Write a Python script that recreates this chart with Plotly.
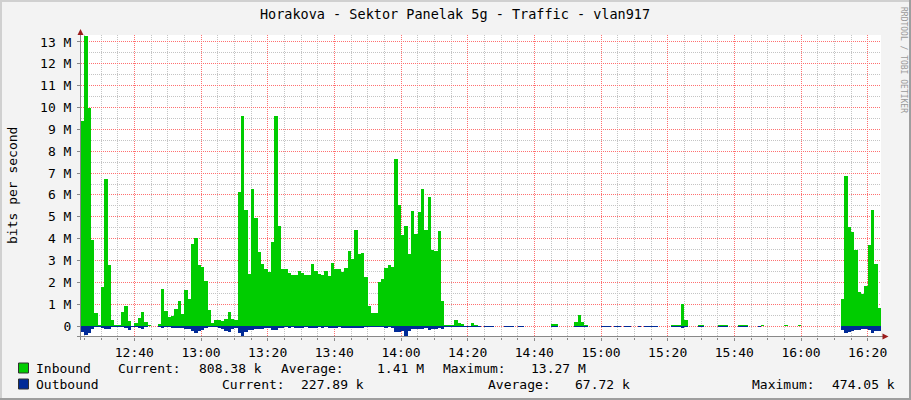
import plotly.graph_objects as go
from datetime import datetime, timedelta

TITLE = "Horakova - Sektor Panelak 5g - Traffic - vlan917"
Y_TITLE = "bits per second"
WATERMARK = "RRDTOOL / TOBI OETIKER"
START = "2024-01-01 12:24:00"
STEP_MINUTES = 1
N = None

# Inbound traffic, Mbit/s, one value per minute (None = no data)
inbound_M = [
    9.4, 13.27, 9.98, 3.94, 0.6, 0.05, 1.8, 6.73, 2.8, 0.27,
    0.06, 0.06, 0.64, 0.93, 0.25, 0.02, 0.15, 0.35, 0.65, 0.2,
    0.04, 0.02, 0.02, 0.1, 1.7, 0.7, 0.43, 0.46, 0.76, 1.13,
    0.56, 1.65, 1.25, 3.75, 4.03, 2.8, 2.7, 2.07, 0.73, 0.15,
    0.27, 0.27, 0.24, 0.33, 0.64, 0.33, 0.27, 6.13, 9.61, 5.31,
    2.38, 6.26, 4.94, 3.39, 2.84, 2.62, 2.47, 3.85, 9.61, 4.58,
    2.62, 2.62, 2.41, 2.35, 2.35, 2.53, 2.41, 2.32, 2.35, 2.84,
    2.5, 2.38, 2.35, 2.5, 2.29, 2.87, 2.62, 2.62, 2.47, 2.65,
    3.45, 3.08, 4.39, 3.3, 3.33, 2.26, 0.92, 0.61, 0.61, 2.01,
    2.17, 2.65, 2.78, 2.69, 7.63, 5.55, 4.15, 4.6, 3.3, 5.25,
    4.2, 5.2, 6.25, 4.4, 5.9, 3.5, 3.45, 4.35, 1.15, 0.04,
    0.04, 0.04, 0.27, 0.15, 0.08, 0.02, 0.02, 0.14, 0.05, 0.01,
    N, 0.01, 0.01, 0.01, N, N, N, 0.01, 0.01, 0.01,
    N, 0.01, 0.01, N, N, N, N, N, N, N,
    N, 0.1, 0.1, N, N, N, N, N, 0.18, 0.49,
    0.18, 0.05, N, N, N, N, 0.01, 0.01, 0.01, N,
    0.01, 0.01, N, 0.01, 0.01, N, N, 0.01, N, 0.01,
    0.01, 0.01, 0.01, N, N, N, N, 0.05, 0.05, 0.05,
    1.02, 0.27, N, N, N, 0.05, 0.05, N, N, N,
    N, 0.05, 0.05, 0.05, N, N, N, 0.05, 0.05, 0.05,
    N, N, N, 0.01, 0.04, N, N, N, N, N,
    N, 0.04, N, N, N, 0.04, N, N, N, N,
    N, N, N, N, N, N, N, N, 1.25, 6.87,
    4.53, 4.3, 3.48, 1.56, 1.46, 1.85, 3.7, 5.31, 2.84, 0.808,
]

# Outbound traffic, Mbit/s (drawn below zero)
outbound_M = [
    0.27, 0.40, 0.30, 0.12, 0.06, 0.03, 0.09, 0.15, 0.15, 0.06,
    0.03, 0.03, 0.03, 0.09, 0.18, 0.06, 0.03, 0.09, 0.15, 0.06,
    0.02, 0.02, 0.02, 0.05, 0.09, 0.06, 0.06, 0.07, 0.08, 0.09,
    0.08, 0.12, 0.15, 0.21, 0.34, 0.24, 0.18, 0.09, 0.06, 0.05,
    0.06, 0.09, 0.15, 0.21, 0.27, 0.15, 0.09, 0.34, 0.474, 0.27,
    0.18, 0.18, 0.15, 0.12, 0.12, 0.09, 0.09, 0.18, 0.18, 0.09,
    0.07, 0.06, 0.07, 0.06, 0.07, 0.08, 0.07, 0.06, 0.07, 0.09,
    0.07, 0.06, 0.07, 0.06, 0.07, 0.1, 0.07, 0.06, 0.07, 0.09,
    0.1, 0.07, 0.1, 0.08, 0.1, 0.06, 0.05, 0.04, 0.05, 0.06,
    0.06, 0.07, 0.06, 0.09, 0.27, 0.27, 0.24, 0.45, 0.24, 0.15,
    0.12, 0.15, 0.15, 0.09, 0.18, 0.12, 0.12, 0.09, 0.15, 0.04,
    0.035, 0.035, 0.06, 0.06, 0.05, 0.035, 0.035, 0.035, 0.035, 0.035,
    N, 0.035, 0.035, 0.035, N, N, N, 0.035, 0.035, 0.035,
    N, 0.035, 0.035, N, N, N, N, N, N, N,
    N, 0.035, 0.035, N, N, N, N, N, 0.035, 0.035,
    0.035, 0.035, N, N, N, N, 0.035, 0.035, 0.035, N,
    0.035, 0.035, N, 0.035, 0.035, N, N, 0.035, N, 0.035,
    0.035, 0.035, 0.035, N, N, N, N, 0.035, 0.035, 0.035,
    0.07, 0.035, N, N, N, 0.035, 0.035, N, N, N,
    N, 0.035, 0.035, 0.035, N, N, N, 0.035, 0.035, 0.035,
    N, N, N, 0.035, 0.02, N, N, N, N, N,
    N, 0.02, N, N, N, 0.02, N, N, N, N,
    N, N, N, N, N, N, N, N, 0.18, 0.34,
    0.27, 0.24, 0.18, 0.18, 0.15, 0.12, 0.18, 0.30, 0.21, 0.228,
]

y_tick_vals_M = [0, 1, 2, 3, 4, 5, 6, 7, 8, 9, 10, 11, 12, 13]
y_tick_text = ["0", "1 M", "2 M", "3 M", "4 M", "5 M", "6 M", "7 M",
               "8 M", "9 M", "10 M", "11 M", "12 M", "13 M"]
y_minor_vals_M = [-0.5, 0.5, 1.5, 2.5, 3.5, 4.5, 5.5, 6.5, 7.5, 8.5,
                  9.5, 10.5, 11.5, 12.5]

series_names = ["Inbound", "Outbound"]
inbound_stats = ["808.38 k", "1.41 M", "13.27 M"]
outbound_stats = ["227.89 k", "67.72 k", "474.05 k"]
stat_labels = ["Current:", "Average:", "Maximum:"]

GREEN = "#00CC00"
BLUE = "#002A97"
FONT = "DejaVu Sans Mono"

t0 = datetime.strptime(START, "%Y-%m-%d %H:%M:%S")
step = timedelta(minutes=STEP_MINUTES)
n = len(inbound_M)
centers = [t0 + step * i + step / 2 for i in range(n)]
t_end = t0 + step * n

# minor (5 min) gridline positions that are not on a 20-min major line
x_minor = []
tm = t0.replace(minute=(t0.minute // 5) * 5, second=0)
while tm <= t_end:
    if tm >= t0 and tm.minute % 20 != 0:
        x_minor.append(tm)
    tm += timedelta(minutes=5)

fig = go.Figure()
fig.add_trace(go.Bar(
    x=centers, y=[None if v is None else v * 1e6 for v in inbound_M],
    width=STEP_MINUTES * 60000, marker=dict(color=GREEN, line=dict(width=0)),
    name=series_names[0], showlegend=False, hoverinfo="skip"))
fig.add_trace(go.Bar(
    x=centers, y=[None if v is None else -v * 1e6 for v in outbound_M],
    width=STEP_MINUTES * 60000, marker=dict(color=BLUE, line=dict(width=0)),
    name=series_names[1], showlegend=False, hoverinfo="skip"))

# plot area geometry (pixels)
L, R, T, B = 81, 881, 35, 337
W, H = R - L, B - T


def px(x):
    return (x - L) / W


def py(y):
    return (B - y) / H


MAJ = "#FF7070"
MIN = "#C4C4C4"
DASH = "1px,1px"

fig.update_layout(
    width=911, height=400, autosize=False,
    margin=dict(l=L, r=911 - R, t=T, b=400 - B, autoexpand=False),
    paper_bgcolor="#F3F3F3", plot_bgcolor="#FFFFFF",
    barmode="overlay", bargap=0,
    font=dict(family=FONT, size=13, color="#000000"),
    title=dict(text=TITLE, x=0.4995, xref="container", xanchor="center",
               y=1 - 14 / 400, yref="container", yanchor="middle",
               font=dict(family=FONT, size=13.5, color="#000000")),
    xaxis=dict(
        type="date", range=[t0, t_end], tickformat="%H:%M",
        tick0="2024-01-01 12:00:00", dtick=20 * 60000,
        showgrid=True, gridcolor=MAJ, griddash=DASH, gridwidth=1,
        ticks="outside", ticklen=3, tickcolor="#888888",
        showline=False, zeroline=False, automargin=False,
        tickfont=dict(family=FONT, size=13),
        minor=dict(tickmode="array", tickvals=x_minor,
                   showgrid=True, gridcolor=MIN, griddash=DASH,
                   ticks="outside", ticklen=2, tickcolor="#888888"),
        fixedrange=True,
    ),
    yaxis=dict(
        range=[-0.503e6, 13.32e6],
        tickmode="array", tickvals=[v * 1e6 for v in y_tick_vals_M],
        ticktext=y_tick_text,
        showgrid=True, gridcolor=MAJ, griddash=DASH, gridwidth=1,
        ticks="outside", ticklen=3, tickcolor="#888888",
        ticklabelstandoff=3,
        showline=False, zeroline=False, automargin=False,
        tickfont=dict(family=FONT, size=13),
        minor=dict(tickmode="array", tickvals=[v * 1e6 for v in y_minor_vals_M],
                   showgrid=True, gridcolor=MIN, griddash=DASH,
                   ticks="", ticklen=0),
        fixedrange=True,
    ),
)

shapes = []
# axis lines
shapes.append(dict(type="line", xref="paper", yref="paper",
                   x0=px(80.5), x1=px(80.5), y0=py(340), y1=py(32),
                   line=dict(color="#888888", width=1)))
shapes.append(dict(type="line", xref="paper", yref="paper",
                   x0=px(77), x1=px(884), y0=py(336.5), y1=py(336.5),
                   line=dict(color="#888888", width=1)))
# arrows
shapes.append(dict(type="path", xref="paper", yref="paper",
                   path=f"M {px(77.5)} {py(35)} L {px(83.5)} {py(35)} L {px(80.5)} {py(29)} Z",
                   fillcolor="#9B1C1C", line=dict(width=0)))
shapes.append(dict(type="path", xref="paper", yref="paper",
                   path=f"M {px(882.5)} {py(333.5)} L {px(882.5)} {py(339.5)} L {px(888.5)} {py(336.5)} Z",
                   fillcolor="#9B1C1C", line=dict(width=0)))
# legend boxes
for yy, col in [(368, GREEN), (384, BLUE)]:
    shapes.append(dict(type="rect", xref="paper", yref="paper",
                       x0=px(18.5), x1=px(28.5), y0=py(yy - 5), y1=py(yy + 5),
                       fillcolor=col, line=dict(color="#303030", width=1)))
# frame
shapes.append(dict(type="line", xref="paper", yref="paper",
                   x0=px(0), x1=px(911), y0=py(1), y1=py(1),
                   line=dict(color="#D0D0D0", width=2)))
shapes.append(dict(type="line", xref="paper", yref="paper",
                   x0=px(1), x1=px(1), y0=py(0), y1=py(400),
                   line=dict(color="#D0D0D0", width=2)))
shapes.append(dict(type="line", xref="paper", yref="paper",
                   x0=px(910), x1=px(910), y0=py(0), y1=py(400),
                   line=dict(color="#9E9E9E", width=2)))
shapes.append(dict(type="line", xref="paper", yref="paper",
                   x0=px(0), x1=px(911), y0=py(399), y1=py(399),
                   line=dict(color="#9E9E9E", width=2)))
fig.update_layout(shapes=shapes)

ann = []


def text_at(x, y, s, size=13, color="#000000", angle=0, xanchor="left"):
    ann.append(dict(text=s, xref="paper", yref="paper", x=px(x), y=py(y),
                    xanchor=xanchor, yanchor="middle", showarrow=False,
                    textangle=angle, font=dict(family=FONT, size=size, color=color)))


# y axis title
ann.append(dict(text=Y_TITLE, xref="paper", yref="paper", x=px(12), y=py(186),
                xanchor="center", yanchor="middle", showarrow=False, textangle=-90,
                font=dict(family=FONT, size=13, color="#000000")))
# watermark
ann.append(dict(text=WATERMARK, xref="paper", yref="paper", x=px(903), y=py(60),
                xanchor="center", yanchor="middle", showarrow=False, textangle=90,
                font=dict(family=FONT, size=8, color="#999999")))

# legend rows
row1_x = [116, 196.5, 279, 375, 440.7, 529]
row2_x = [219.8, 299.4, 485.5, 572.7, 750, 829.7]
text_at(33.7, 368, series_names[0])
text_at(33.7, 384, series_names[1])
for k in range(3):
    text_at(row1_x[2 * k], 368, stat_labels[k])
    text_at(row1_x[2 * k + 1], 368, inbound_stats[k])
    text_at(row2_x[2 * k], 384, stat_labels[k])
    text_at(row2_x[2 * k + 1], 384, outbound_stats[k])
fig.update_layout(annotations=ann)

fig.write_html(
    "out.html",
    config={"displayModeBar": False, "staticPlot": True},
    post_script="document.body.style.margin='0';document.body.style.overflow='hidden';",
)
